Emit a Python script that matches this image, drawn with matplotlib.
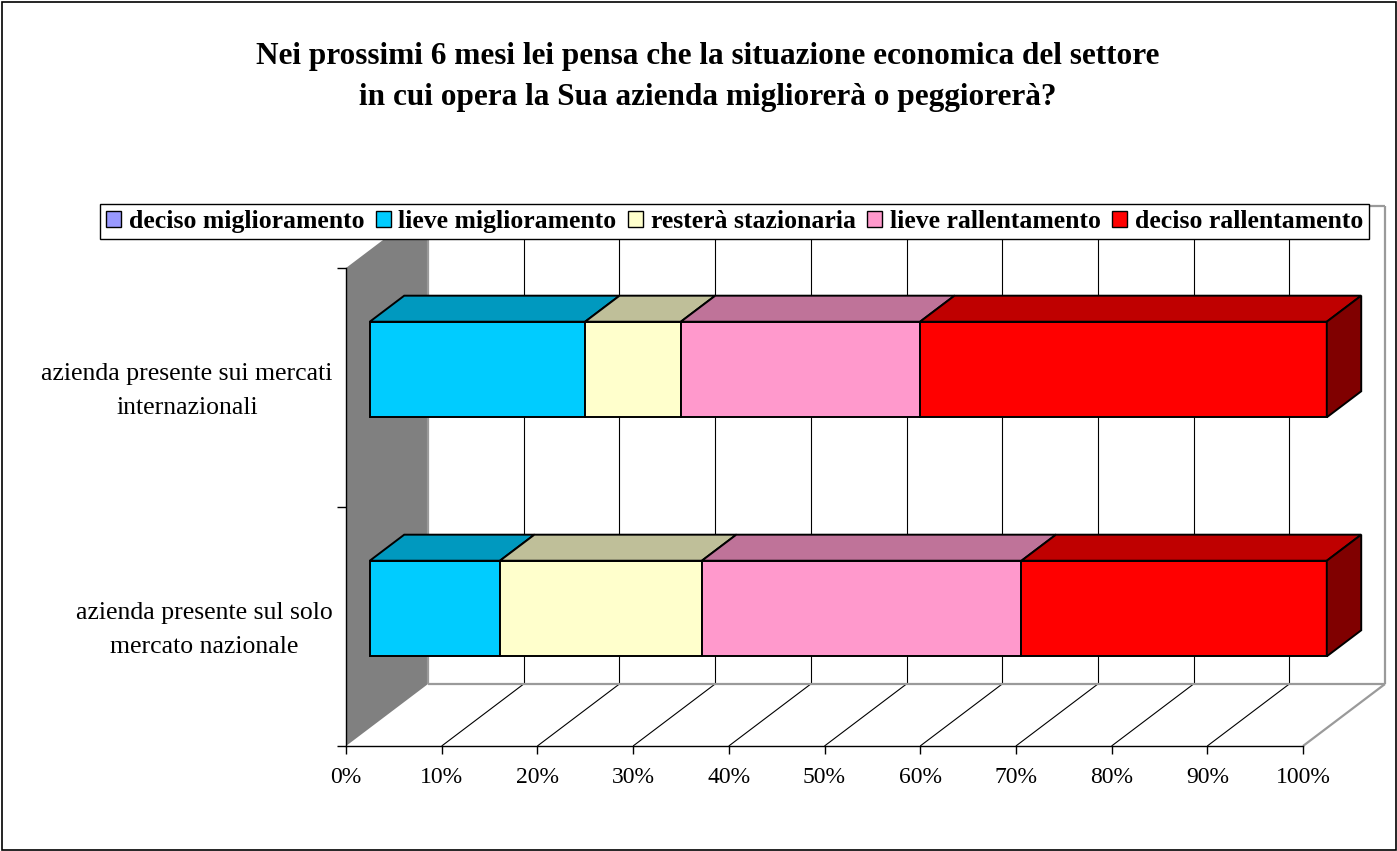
import numpy as np
import matplotlib
matplotlib.use("Agg")
import matplotlib.pyplot as plt
import matplotlib.transforms as mtransforms
from matplotlib.patches import Polygon, Rectangle, Patch

# ---- data -------------------------------------------------------------
categories = [
    "azienda presente sul solo\nmercato nazionale",
    "azienda presente sui mercati\ninternazionali",
]
series_names = [
    "deciso miglioramento",
    "lieve miglioramento",
    "resterà stazionaria",
    "lieve rallentamento",
    "deciso rallentamento",
]
deciso_miglioramento = [0.0, 0.0]
lieve_miglioramento = [13.6, 22.5]
restera_stazionaria = [21.1, 10.0]
lieve_rallentamento = [33.4, 25.0]
deciso_rallentamento = [31.9, 42.5]
x_ticks = list(range(0, 101, 10))
x_tick_labels = [f"{t}%" for t in x_ticks]
title = ("Nei prossimi 6 mesi lei pensa che la situazione economica del settore\n"
         "in cui opera la Sua azienda migliorerà o peggiorerà?")

series_values = [deciso_miglioramento, lieve_miglioramento, restera_stazionaria,
                 lieve_rallentamento, deciso_rallentamento]
front_colors = ["#9999FF", "#00CCFF", "#FFFFCC", "#FF99CC", "#FF0000"]


def shade(hex_color, k):
    r, g, b = matplotlib.colors.to_rgb(hex_color)
    return (r * k, g * k, b * k)


SERIF = ["Liberation Serif", "DejaVu Serif"]
plt.rcParams["font.family"] = SERIF

W, H = 1397, 851
fig = plt.figure(figsize=(W / 100, H / 100), dpi=100)
fig.patch.set_facecolor("white")

# front plane of the plot area
ax = fig.add_axes([346 / W, (H - 746) / H, 957 / W, 478 / H])
ax.set_xlim(0, 100)
ax.set_ylim(0, len(categories))
ax.patch.set_alpha(0)

# oblique depth vector (full depth of the 3-D box), in data units
DX = 82 / 957 * 100
DY = 62 / 478 * len(categories)


def proj(x, y, d):
    return (x + d * DX, y + d * DY)


def poly(pts, **kw):
    p = Polygon(pts, closed=True, clip_on=False, **kw)
    ax.add_patch(p)
    return p


def seg(p0, p1, **kw):
    ax.plot([p0[0], p1[0]], [p0[1], p1[1]], clip_on=False, solid_capstyle="butt", **kw)


ymax = len(categories)
# side wall
poly([proj(0, 0, 0), proj(0, ymax, 0), proj(0, ymax, 1), proj(0, 0, 1)],
     facecolor="#808080", edgecolor="none", zorder=1)
# back wall edges
wall_edge = dict(color="#9a9a9a", lw=1.6, zorder=1.5)
seg(proj(0, 0, 1), proj(0, ymax, 1), **wall_edge)
seg(proj(0, 0, 1), proj(100, 0, 1), **wall_edge)
seg(proj(100, 0, 1), proj(100, ymax, 1), **wall_edge)
seg(proj(0, ymax, 1), proj(100, ymax, 1), **wall_edge)
seg(proj(100, 0, 0), proj(100, 0, 1), **wall_edge)

# gridlines on back wall and floor
for t in x_ticks[1:-1]:
    seg(proj(t, 0, 1), proj(t, ymax, 1), color="black", lw=0.8, zorder=1.2)
    seg(proj(t, 0, 0), proj(t, 0, 1), color="black", lw=0.8, zorder=1.2)

# stacked 3-D bars
bar_h = 0.4
d0, d1 = 0.29, 0.71
edge = dict(edgecolor="black", linewidth=1.4, joinstyle="miter")
for i in range(len(categories)):
    y0 = i + 0.5 - bar_h / 2
    y1 = i + 0.5 + bar_h / 2
    left = 0.0
    last = max(j for j, s in enumerate(series_values) if s[i] > 0)
    for j, s in enumerate(series_values):
        v = s[i]
        if v <= 0:
            continue
        right = left + v
        c = front_colors[j]
        poly([proj(left, y0, d0), proj(right, y0, d0), proj(right, y1, d0), proj(left, y1, d0)],
             facecolor=c, zorder=3, **edge)
        poly([proj(left, y1, d0), proj(right, y1, d0), proj(right, y1, d1), proj(left, y1, d1)],
             facecolor=shade(c, 0.75), zorder=3, **edge)
        if j == last:
            poly([proj(right, y0, d0), proj(right, y1, d0), proj(right, y1, d1), proj(right, y0, d1)],
                 facecolor=shade(c, 0.5), zorder=3, **edge)
        left = right

# axes styling
for side in ("top", "right"):
    ax.spines[side].set_visible(False)
for side in ("left", "bottom"):
    ax.spines[side].set_color("black")
    ax.spines[side].set_linewidth(1.0)
    ax.spines[side].set_zorder(2)

ax.set_xticks(x_ticks)
ax.set_xticklabels(x_tick_labels, fontsize=17)
ax.tick_params(axis="x", direction="out", length=6, width=1, pad=9, colors="black")

ax.set_yticks([i + 0.5 for i in range(len(categories))])
ax.set_yticklabels(categories, fontsize=18.5, multialignment="center", linespacing=1.7)
ax.set_yticks(range(len(categories) + 1), minor=True)
ax.tick_params(axis="y", which="major", length=0, pad=9.5)
ax.tick_params(axis="y", which="minor", direction="out", length=6.5, width=1)
lift = mtransforms.ScaledTranslation(0, 5 / 100, fig.dpi_scale_trans)
for lbl in ax.get_yticklabels():
    lbl.set_transform(lbl.get_transform() + lift)

# title
fig.text(708 / W, 1 - 77 / H, title, ha="center", va="center", fontsize=22.5,
         fontweight="bold", linespacing=1.55)

# legend
handles = [Patch(facecolor=c, edgecolor="black", linewidth=1.0) for c in front_colors]
leg = fig.legend(handles, series_names, loc="center", bbox_to_anchor=(734.5 / W, 1 - 221.5 / H),
                 ncol=5, frameon=True, fancybox=False, edgecolor="black", framealpha=1,
                 prop={"family": SERIF, "weight": "bold", "size": 18.5},
                 handlelength=0.58, handleheight=0.58, handletextpad=0.3,
                 columnspacing=0.45, borderpad=0.25, borderaxespad=0)
leg.get_frame().set_linewidth(1.0)
leg.set_zorder(10)

# outer chart border
fig.patches.append(Rectangle((1.5 / W, 1.5 / H), 1 - 3 / W, 1 - 3 / H, transform=fig.transFigure,
                             fill=False, edgecolor="black", linewidth=1.2))

fig.savefig("out.png", dpi=100, facecolor="white")
